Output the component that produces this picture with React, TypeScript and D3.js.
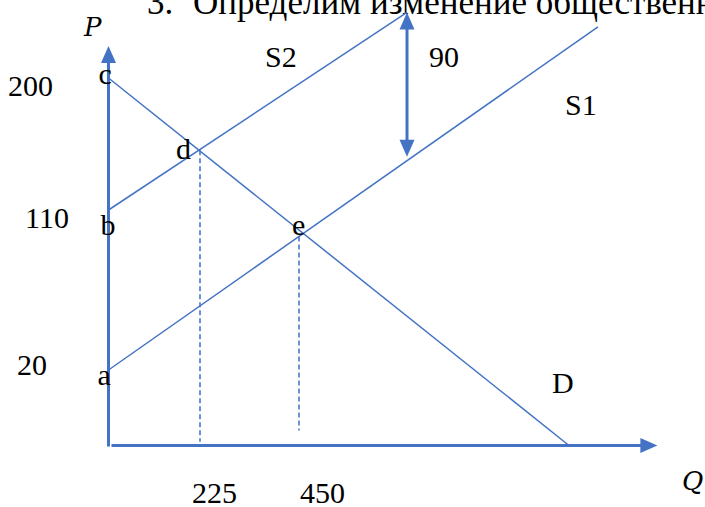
import * as d3 from "d3";

// схематичный график: спрос D и предложение S1 -> S2 (сдвиг на 90)
const Q_BREAKS = [0, 225, 450, 1000];
const P_BREAKS = [0, 20, 110, 155, 200];

const pTicks = [200, 110, 20];
const qTicks = [225, 450];

const demand = [{ q: 0, p: 200 }, { q: 1000, p: 0 }];
const supply1 = [{ q: 0, p: 20 }, { q: 1059, p: 232 }];
const supply2 = [{ q: 0, p: 110 }, { q: 670, p: 241 }];
const shiftArrow = [{ q: 670, p: 241 }, { q: 670, p: 150 }];

const pointNames = ["c", "b", "a", "d", "e"];
const pointValues = [
  { q: 0, p: 200 },
  { q: 0, p: 110 },
  { q: 0, p: 20 },
  { q: 225, p: 155 },
  { q: 450, p: 110 },
];
const dropBottoms = [1, 4];

const curveNames = ["S2", "S1", "D"];
const shiftLabel = "90";
const title = "Определим изменение общественного благосостояния";

const BLUE = "#4472C4";
const FONT = "'Liberation Serif', 'Times New Roman', serif";

const W = 705;
const H = 507;

export default function App() {
  const x = d3.scaleLinear().domain(Q_BREAKS).range([108.5, 200, 299, 569]);
  const y = d3.scaleLinear().domain(P_BREAKS).range([445.5, 370, 210, 150, 78]);

  const line = d3
    .line<{ q: number; p: number }>()
    .x((d) => x(d.q))
    .y((d) => y(d.p));

  // точка пересечения двух отрезков в пикселях
  const cross = (a: { q: number; p: number }[], b: { q: number; p: number }[]) => {
    const [x1, y1, x2, y2] = [x(a[0].q), y(a[0].p), x(a[1].q), y(a[1].p)];
    const [x3, y3, x4, y4] = [x(b[0].q), y(b[0].p), x(b[1].q), y(b[1].p)];
    const den = (x1 - x2) * (y3 - y4) - (y1 - y2) * (x3 - x4);
    const t = ((x1 - x3) * (y3 - y4) - (y1 - y3) * (x3 - x4)) / den;
    return [x1 + t * (x2 - x1), y1 + t * (y2 - y1)];
  };
  const dPt = cross(demand, supply2);
  const ePt = cross(demand, supply1);

  const axisX0 = x(0);
  const axisY0 = y(0);
  const yTip = y(220);
  const xTip = x(1180);

  const head = (tx: number, ty: number, dir: "up" | "down" | "right") => {
    const L = 17;
    const hw = 7.5;
    if (dir === "up") return `M${tx},${ty} L${tx - hw},${ty + L} L${tx + hw},${ty + L} Z`;
    if (dir === "down") return `M${tx},${ty} L${tx - hw},${ty - L} L${tx + hw},${ty - L} Z`;
    return `M${tx},${ty} L${tx - L},${ty - hw} L${tx - L},${ty + hw} Z`;
  };

  const sx = x(shiftArrow[0].q);
  const sTop = y(shiftArrow[0].p);
  const sBot = y(shiftArrow[1].p);

  // подписи точек: смещения относительно точек
  const pointOffsets = [
    [-10, 6],
    [-8, 25],
    [-11, 15],
    [-24, 9],
    [-7, 25],
  ];
  const pTickPos = [
    [8, 18],
    [25, 18],
    [17, 5],
  ];
  const qTickOffsets = [-8, 1];

  const textStyle = { fontFamily: FONT, fontSize: 30, fill: "#000" };
  const mathStyle = { ...textStyle, fontFamily: "'DejaVu Serif', serif", fontSize: 26, fontStyle: "italic" };

  return (
    <div style={{ position: "fixed", left: 0, top: 0 }}>
      <svg width={W} height={H} style={{ display: "block", background: "#fff" }}>
        {/* заголовок, обрезан сверху */}
        <text x={147} y={14} style={{ ...textStyle, fontSize: 35 }}>3.</text>
        <text x={193} y={14} style={{ ...textStyle, fontSize: 35 }}>{title}</text>

        {/* оси */}
        <line x1={axisX0} y1={axisY0 + 1} x2={axisX0} y2={yTip + 12} stroke={BLUE} strokeWidth={3} />
        <path d={head(axisX0, yTip, "up")} fill={BLUE} />
        <line x1={axisX0 + 3} y1={axisY0} x2={xTip - 12} y2={axisY0} stroke={BLUE} strokeWidth={3} />
        <path d={head(xTip, axisY0, "right")} fill={BLUE} />

        {/* пунктир */}
        <line
          x1={x(qTicks[0])} y1={dPt[1]} x2={x(qTicks[0])} y2={y(dropBottoms[0])}
          stroke="#5B86D0" strokeWidth={1.75} strokeDasharray="5 3"
        />
        <line
          x1={x(qTicks[1])} y1={ePt[1] + 3} x2={x(qTicks[1])} y2={y(dropBottoms[1])}
          stroke="#5B86D0" strokeWidth={1.75} strokeDasharray="5 3"
        />

        {/* кривые */}
        {[demand, supply1, supply2].map((d, i) => (
          <path key={i} d={line(d) || ""} fill="none" stroke={BLUE} strokeWidth={1.5} />
        ))}

        {/* двойная стрелка сдвига */}
        <line x1={sx} y1={sTop + 12} x2={sx} y2={sBot - 12} stroke={BLUE} strokeWidth={3} />
        <path d={head(sx, sTop, "up")} fill={BLUE} />
        <path d={head(sx, sBot, "down")} fill={BLUE} />

        {/* подписи */}
        {pTicks.map((v, i) => (
          <text key={v} x={pTickPos[i][0]} y={y(v) + pTickPos[i][1]} style={textStyle}>{v}</text>
        ))}
        {qTicks.map((v, i) => (
          <text key={v} x={x(v) + qTickOffsets[i]} y={503} style={textStyle}>{v}</text>
        ))}
        {pointNames.map((n, i) => (
          <text
            key={n}
            x={x(pointValues[i].q) + pointOffsets[i][0]}
            y={y(pointValues[i].p) + pointOffsets[i][1]}
            style={textStyle}
          >
            {n}
          </text>
        ))}
        <text x={265} y={67} style={textStyle}>{curveNames[0]}</text>
        <text x={565} y={115} style={textStyle}>{curveNames[1]}</text>
        <text x={552} y={393} style={textStyle}>{curveNames[2]}</text>
        <text x={sx + 22} y={67} style={textStyle}>{shiftLabel}</text>

        <text x={84} y={36} style={mathStyle}>P</text>
        <text x={682} y={490} style={mathStyle}>Q</text>
      </svg>
    </div>
  );
}
